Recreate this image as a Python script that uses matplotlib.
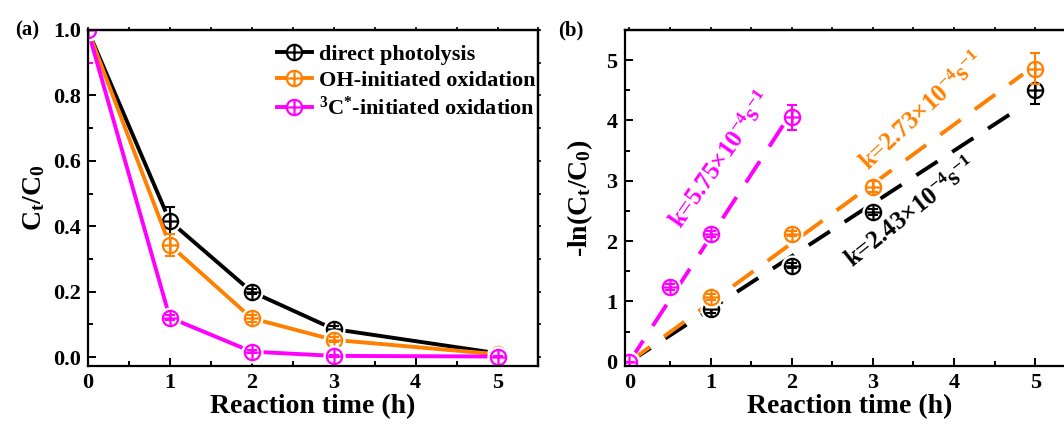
import matplotlib

matplotlib.use("Agg")
import matplotlib.pyplot as plt
from matplotlib.lines import Line2D
from matplotlib.path import Path
from matplotlib.ticker import MultipleLocator

plt.rcParams["font.family"] = ["Liberation Serif", "DejaVu Serif"]
plt.rcParams["font.weight"] = "bold"
plt.rcParams["axes.labelweight"] = "bold"
plt.rcParams["mathtext.fontset"] = "custom"
plt.rcParams["mathtext.rm"] = "Liberation Serif:bold"
plt.rcParams["mathtext.it"] = "Liberation Serif:bold"
plt.rcParams["mathtext.bf"] = "Liberation Serif:bold"
plt.rcParams["mathtext.default"] = "rm"

BLACK = "#000000"
ORANGE = "#FF8000"
MAGENTA = "#FF00FF"

# panel (a): C_t/C_0 vs time
time_a = [0, 1, 2, 3, 5]
direct = [1.0, 0.416, 0.200, 0.086, 0.012]
direct_err = [0.0, 0.042, 0.008, 0.008, 0.006]
oh = [1.0, 0.343, 0.119, 0.053, 0.009]
oh_err = [0.0, 0.035, 0.010, 0.008, 0.004]
c3 = [1.0, 0.121, 0.017, 0.004, 0.002]
c3_err = [0.10, 0.008, 0.004, 0.002, 0.002]

# panel (b): -ln(C_t/C_0) vs time
time_b_direct = [0, 1, 2, 3, 5]
ln_direct = [0.0, 0.87, 1.595, 2.49, 4.50]
ln_direct_err = [0.0, 0.06, 0.04, 0.05, 0.22]
time_b_oh = [0, 1, 2, 3, 5]
ln_oh = [0.0, 1.07, 2.12, 2.90, 4.86]
ln_oh_err = [0.0, 0.05, 0.04, 0.09, 0.26]
time_b_c3 = [0, 0.5, 1, 2]
ln_c3 = [0.0, 1.246, 2.12, 4.05]
ln_c3_err = [0.0, 0.05, 0.05, 0.21]

# pseudo-first-order rate constants (s^-1) and fitted line ranges (h)
k_direct, k_oh, k_c3 = 2.43e-4, 2.73e-4, 5.75e-4
fit_direct_t = [0.0, 4.85]
fit_oh_t = [0.0, 4.85]
fit_c3_t = [0.0, 1.95]

x_ticks = [0, 1, 2, 3, 4, 5]
ya_ticks = [0.0, 0.2, 0.4, 0.6, 0.8, 1.0]
yb_ticks = [0, 1, 2, 3, 4, 5]

labels = ["direct photolysis", "OH-initiated oxidation", "$^{3}$C$^{*}$-initiated oxidation"]
colors = [BLACK, ORANGE, MAGENTA]

# circle with a cross ("⊕") marker
oplus = Path.make_compound_path(
    Path.unit_circle(),
    Path([[-1, 0], [1, 0]], [Path.MOVETO, Path.LINETO]),
    Path([[0, -1], [0, 1]], [Path.MOVETO, Path.LINETO]),
)
MS = 11


def draw_points(ax, t, y, e, c, z):
    # white halo gives the small gap between line and symbol
    ax.plot(t, y, ls="none", marker="o", ms=MS + 5, mfc="white", mec="none", zorder=z)
    ax.errorbar(t, y, yerr=e, color=c, ls="none", capsize=3.5, elinewidth=1.5,
                capthick=1.5, zorder=z + 0.1)
    ax.plot(t, y, ls="none", marker=oplus, ms=MS, mew=1.6, mfc="none", mec=c, zorder=z + 0.2)


def style_axes(ax, xt, yt, yfmt, xminor, yminor):
    for s in ax.spines.values():
        s.set_linewidth(1.6)
        s.set_zorder(10)
    ax.set_xticks(xt, [str(v) for v in xt], fontweight="bold")
    ax.set_yticks(yt, [yfmt % v for v in yt], fontweight="bold")
    ax.xaxis.set_minor_locator(MultipleLocator(xminor))
    ax.yaxis.set_minor_locator(MultipleLocator(yminor))
    ax.tick_params(which="both", direction="in", width=1.4, labelsize=16, pad=5)
    ax.tick_params(which="major", length=6)
    ax.tick_params(which="minor", length=3.5)
    # short outward ticks on the top and right frame
    top = ax.secondary_xaxis("top")
    top.set_xticks(xt)
    top.xaxis.set_minor_locator(MultipleLocator(xminor))
    top.tick_params(which="both", direction="out", length=2, width=1.2, labeltop=False)
    right = ax.secondary_yaxis("right")
    right.set_yticks(yt)
    right.yaxis.set_minor_locator(MultipleLocator(yminor))
    right.tick_params(which="both", direction="out", length=2, width=1.2, labelright=False)
    for sec in (top, right):
        for s in sec.spines.values():
            s.set_linewidth(1.6)


fig = plt.figure(figsize=(10.64, 4.26), dpi=100)
ax1 = fig.add_axes([0.0825, 0.1408, 0.4236, 0.7888])
ax2 = fig.add_axes([0.587, 0.1408, 0.424, 0.7888])

for i, (y, e) in enumerate([(direct, direct_err), (oh, oh_err), (c3, c3_err)]):
    z = 3 + i
    ax1.plot(time_a, y, color=colors[i], lw=2.8, zorder=z - 0.5)
    draw_points(ax1, time_a, y, e, colors[i], z)

ax1.set_xlim(0, 5.5)
ax1.set_ylim(-0.027, 1.0)
ax1.set_xlabel("Reaction time (h)", fontsize=20, labelpad=1)
ax1.set_ylabel("C$_t$/C$_0$", fontsize=20, labelpad=4)
style_axes(ax1, x_ticks, ya_ticks, "%.1f", 0.5, 0.1)

handles = [Line2D([], [], color=c, lw=2.8, marker=oplus, ms=MS, mew=1.6, mfc="white", mec=c)
           for c in colors]
ax1.legend(handles, labels, loc="upper right", fontsize=16, frameon=False, handlelength=1.6,
           handletextpad=0.3, labelspacing=0.25, borderaxespad=0.45, borderpad=0.2,
           bbox_to_anchor=(1.025, 1.0))
ax1.text(-0.135, 1.0, "(a)", transform=ax1.transAxes, fontsize=15, va="center", ha="center")

# panel (b)
for i, (t, y, e) in enumerate([(time_b_direct, ln_direct, ln_direct_err),
                               (time_b_oh, ln_oh, ln_oh_err),
                               (time_b_c3, ln_c3, ln_c3_err)]):
    draw_points(ax2, t, y, e, colors[i], 3 + i)

for t, k, c in [(fit_direct_t, k_direct, BLACK), (fit_oh_t, k_oh, ORANGE), (fit_c3_t, k_c3, MAGENTA)]:
    yy = [k * 3600 * v for v in t]
    ax2.plot(t, yy, color=c, lw=2.8, dashes=(6.5, 4.5), zorder=2)

ax2.text(1.14, 3.35, "k=5.75×10$^{-4}$s$^{-1}$", color=MAGENTA, fontsize=18,
         rotation=55, ha="center", va="center", rotation_mode="anchor")
ax2.text(3.61, 4.15, "k=2.73×10$^{-4}$s$^{-1}$", color=ORANGE, fontsize=18,
         rotation=43, ha="center", va="center", rotation_mode="anchor")
ax2.text(3.47, 2.46, "k=2.43×10$^{-4}$s$^{-1}$", color=BLACK, fontsize=18,
         rotation=38.5, ha="center", va="center", rotation_mode="anchor")

ax2.set_xlim(-0.06, 5.5)
ax2.set_ylim(-0.07, 5.5)
ax2.set_xlabel("Reaction time (h)", fontsize=20, labelpad=1)
ax2.set_ylabel("-ln(C$_t$/C$_0$)", fontsize=20, labelpad=8)
style_axes(ax2, x_ticks, yb_ticks, "%d", 0.5, 0.5)
ax2.text(-0.12, 1.0, "(b)", transform=ax2.transAxes, fontsize=15, va="center", ha="center")

fig.savefig("out.png", dpi=100)
